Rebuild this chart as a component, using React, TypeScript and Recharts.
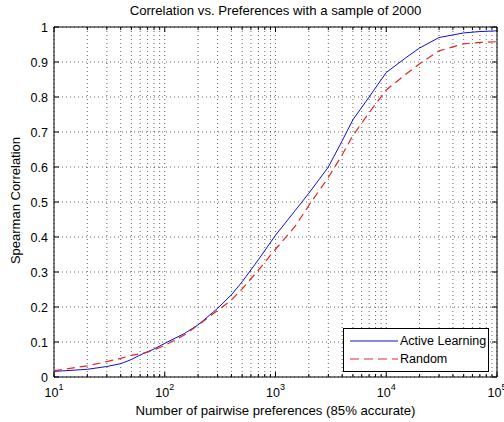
import React from 'react';
import { LineChart, Line, XAxis, YAxis, CartesianGrid, ReferenceArea, Legend } from 'recharts';

const pairwise = [10, 20, 30, 40, 50, 60, 70, 80, 100, 150, 200, 300, 400, 500, 700, 1000, 1500, 2000, 3000, 4000, 5000, 7000, 10000, 15000, 20000, 30000, 50000, 70000, 100000];
const activeLearning = [0.016, 0.022, 0.03, 0.038, 0.05, 0.063, 0.072, 0.08, 0.096, 0.124, 0.149, 0.196, 0.235, 0.272, 0.335, 0.405, 0.475, 0.525, 0.6, 0.675, 0.735, 0.8, 0.87, 0.912, 0.94, 0.97, 0.983, 0.987, 0.989];
const random = [0.018, 0.032, 0.044, 0.053, 0.062, 0.066, 0.071, 0.078, 0.09, 0.12, 0.148, 0.19, 0.22, 0.252, 0.305, 0.365, 0.43, 0.49, 0.57, 0.635, 0.69, 0.755, 0.82, 0.865, 0.895, 0.932, 0.952, 0.956, 0.958];

const xTicks = [10, 20, 30, 40, 50, 60, 70, 80, 90, 100, 200, 300, 400, 500, 600, 700, 800, 900, 1000, 2000, 3000, 4000, 5000, 6000, 7000, 8000, 9000, 10000, 20000, 30000, 40000, 50000, 60000, 70000, 80000, 90000, 100000];
const xMajor = [10, 100, 1000, 10000, 100000];
const yTicks = [0, 0.1, 0.2, 0.3, 0.4, 0.5, 0.6, 0.7, 0.8, 0.9, 1];

const seriesNames = { active: 'Active Learning', random: 'Random' };

const data = pairwise.map((n, i) => ({ n, active: activeLearning[i], random: random[i] }));

const W = 504;
const H = 422;
const PLOT_TOP = 27;
const PLOT_BOTTOM = 377;
const PLOT_LEFT = 54;
const PLOT_RIGHT = 497;
const FONT = '"Liberation Sans", Arial, Helvetica, sans-serif';

const XTick = (props: any) => {
  const { x, payload } = props;
  const v = payload.value;
  const major = xMajor.includes(v);
  const len = major ? 5 : 3;
  const exp = Math.round(Math.log10(v));
  return (
    <g>
      <line x1={x} x2={x} y1={PLOT_BOTTOM} y2={PLOT_BOTTOM - len} stroke="#000" strokeWidth={1} />
      <line x1={x} x2={x} y1={PLOT_TOP} y2={PLOT_TOP + len} stroke="#000" strokeWidth={1} />
      {major && (
        <text x={x} y={PLOT_BOTTOM + 20} textAnchor="middle" fontSize={12.5} fontFamily={FONT} fill="#000">
          10
          <tspan fontSize={9} dy={-7}>{exp}</tspan>
        </text>
      )}
    </g>
  );
};

const YTick = (props: any) => {
  const { y, payload } = props;
  const v = payload.value;
  const label = v === 0 ? '0' : v === 1 ? '1' : v.toFixed(1);
  return (
    <g>
      <line x1={PLOT_LEFT} x2={PLOT_LEFT + 5} y1={y} y2={y} stroke="#000" strokeWidth={1} />
      <line x1={PLOT_RIGHT} x2={PLOT_RIGHT - 5} y1={y} y2={y} stroke="#000" strokeWidth={1} />
      <text x={PLOT_LEFT - 6} y={y + 4.5} textAnchor="end" fontSize={12.5} fontFamily={FONT} fill="#000">
        {label}
      </text>
    </g>
  );
};

const LegendBox = (props: any) => {
  const payload = props.payload || [];
  return (
    <div
      style={{
        width: 146,
        height: 44,
        border: '1px solid #000',
        background: '#fff',
        boxSizing: 'border-box',
        fontFamily: FONT,
        fontSize: 12.5,
        paddingTop: 3,
      }}
    >
      {payload.map((p: any, i: number) => (
        <div key={i} style={{ display: 'flex', alignItems: 'center', height: 18 }}>
          <svg width={52} height={10} style={{ marginLeft: 4 }}>
            <line
              x1={2}
              x2={50}
              y1={5}
              y2={5}
              stroke={p.color}
              strokeWidth={1.2}
              strokeDasharray={p.dataKey === 'random' ? '9 5' : undefined}
            />
          </svg>
          <span style={{ color: '#000', marginLeft: 0 }}>{p.value}</span>
        </div>
      ))}
    </div>
  );
};

export default function App() {
  return (
    <div style={{ position: 'absolute', left: 0, top: 0, width: W, height: H, background: '#fff' }}>
      <div
        style={{
          position: 'absolute',
          left: PLOT_LEFT,
          width: PLOT_RIGHT - PLOT_LEFT,
          top: 3,
          textAlign: 'center',
          fontFamily: FONT,
          fontSize: 13.2,
          color: '#000',
          zIndex: 2,
        }}
      >
        Correlation vs. Preferences with a sample of 2000
      </div>
      <div
        style={{
          position: 'absolute',
          left: PLOT_LEFT,
          width: PLOT_RIGHT - PLOT_LEFT,
          top: 403,
          textAlign: 'center',
          fontFamily: FONT,
          fontSize: 13.2,
          color: '#000',
          zIndex: 2,
        }}
      >
        Number of pairwise preferences (85% accurate)
      </div>
      <div
        style={{
          position: 'absolute',
          left: 15 - 100,
          top: (PLOT_TOP + PLOT_BOTTOM) / 2 - 9,
          width: 200,
          textAlign: 'center',
          transform: 'rotate(-90deg)',
          fontFamily: FONT,
          fontSize: 13,
          color: '#000',
          zIndex: 2,
        }}
      >
        Spearman Correlation
      </div>
      <LineChart width={W} height={H} data={data} margin={{ top: PLOT_TOP, right: W - PLOT_RIGHT, bottom: 0, left: 0 }}>
        <CartesianGrid stroke="#000" strokeDasharray="1 3" strokeOpacity={0.6} />
        <XAxis
          dataKey="n"
          type="number"
          scale="log"
          domain={[10, 100000]}
          ticks={xTicks}
          interval={0}
          allowDataOverflow
          height={H - PLOT_BOTTOM}
          tickSize={0}
          tickMargin={8}
          tick={<XTick />}
          axisLine={false}
          tickLine={false}
        />
        <YAxis
          type="number"
          domain={[0, 1]}
          ticks={yTicks}
          interval={0}
          width={PLOT_LEFT}
          tickSize={0}
          tickMargin={6}
          tick={<YTick />}
          axisLine={false}
          tickLine={false}
        />
        <ReferenceArea x1={10} x2={100000} y1={0} y2={1} fill="none" stroke="#000" strokeWidth={1} ifOverflow="visible" />
        <Line
          type="linear"
          dataKey="active"
          name={seriesNames.active}
          stroke="#1010d0"
          strokeWidth={1}
          dot={false}
          isAnimationActive={false}
        />
        <Line
          type="linear"
          dataKey="random"
          name={seriesNames.random}
          stroke="#e02828"
          strokeWidth={1.2}
          strokeDasharray="8 5"
          dot={false}
          isAnimationActive={false}
        />
        <Legend
          layout="horizontal"
          verticalAlign="middle"
          align="center"
          content={<LegendBox />}
          wrapperStyle={{ left: 343, top: 328, width: 146, height: 44 }}
        />
      </LineChart>
    </div>
  );
}
